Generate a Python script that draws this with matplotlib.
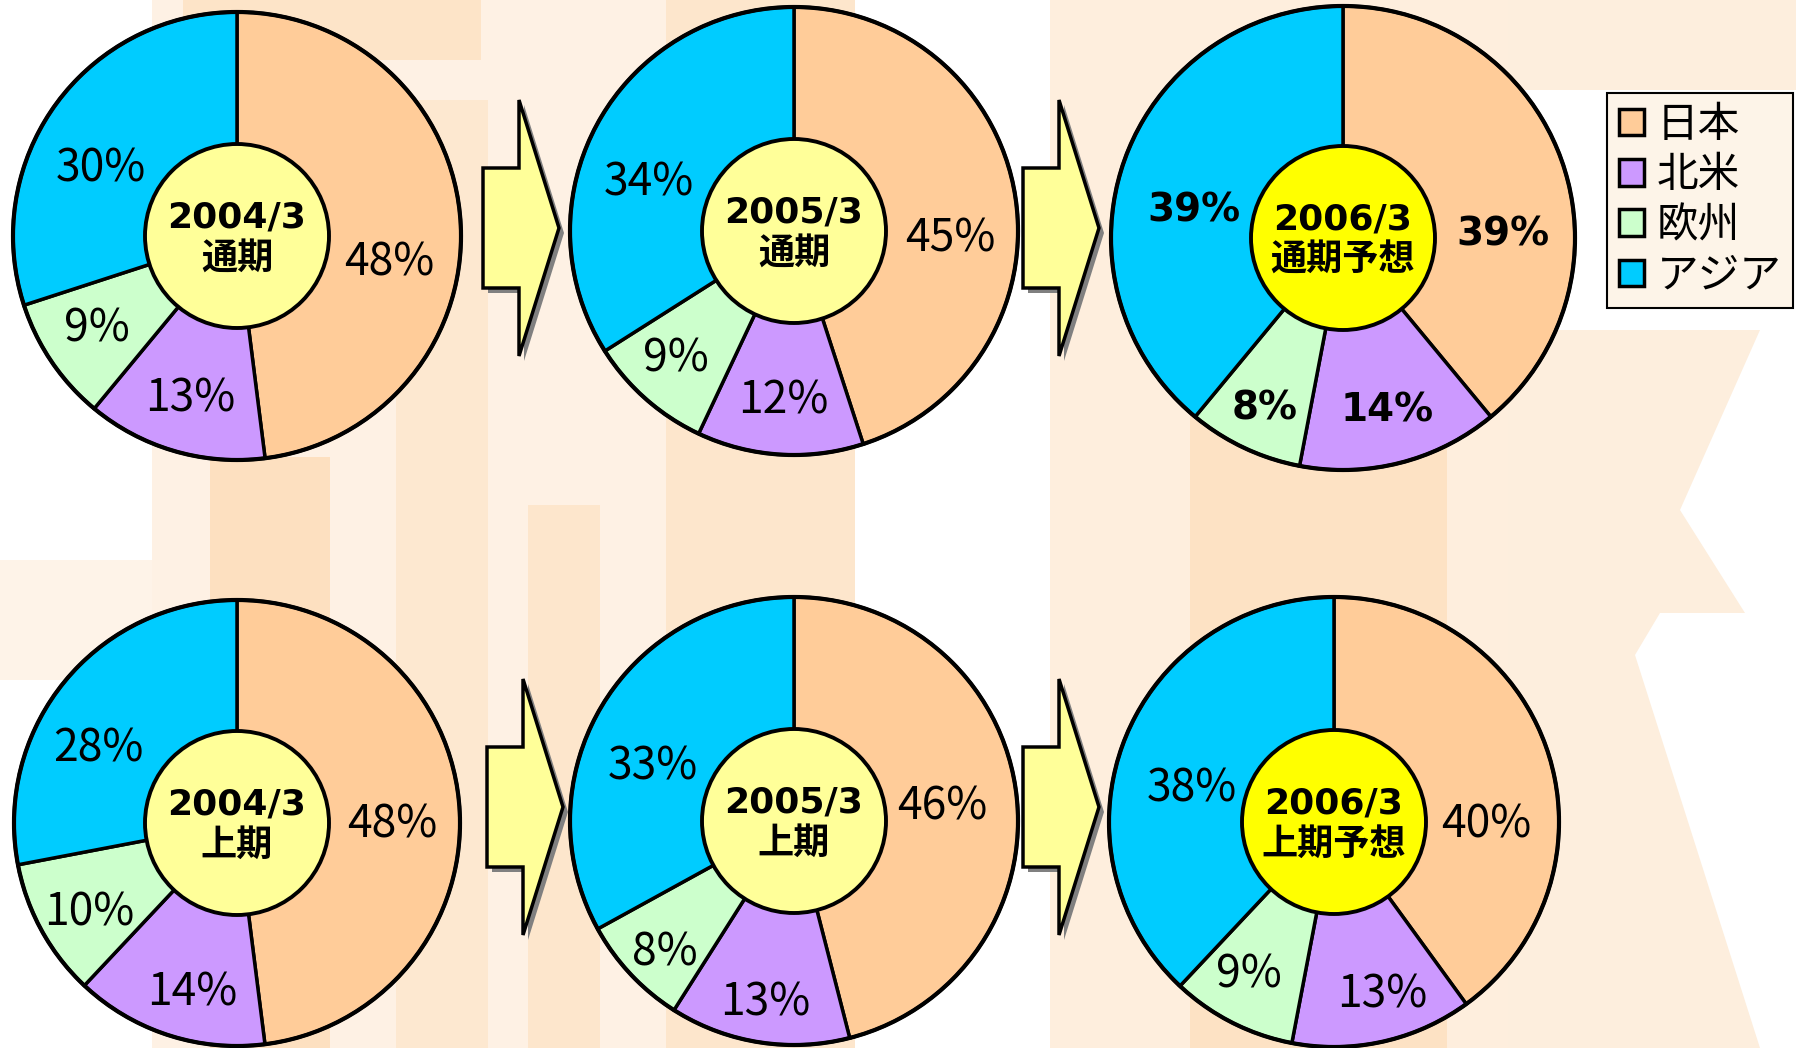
import matplotlib.pyplot as plt
from matplotlib.patches import Circle, Polygon, Rectangle

# Region share (%) per period
regions = ['日本', '北米', '欧州', 'アジア']
colors = ['#ffcc99', '#cc99ff', '#ccffcc', '#00ccff']

periods = ['2004/3\n通期', '2005/3\n通期', '2006/3\n通期予想',
           '2004/3\n上期', '2005/3\n上期', '2006/3\n上期予想']
japan = [48, 45, 39, 48, 46, 40]
north_america = [13, 12, 14, 14, 13, 13]
europe = [9, 9, 8, 10, 8, 9]
asia = [30, 34, 39, 28, 33, 38]
forecast = [False, False, True, False, False, True]
bold_labels = [False, False, True, False, False, False]

# layout in pixels (y down): pie centre x, centre y, radius
centers = [(237, 236, 224), (794, 231, 224), (1343, 238, 232),
           (237, 823, 223), (794, 821, 224), (1334, 822, 225)]
# label positions relative to the pie centre (日本, 北米, 欧州, アジア)
label_offsets = [
    [(152, 26), (-47, 162), (-140, 92), (-136, -67)],
    [(156, 7), (-11, 169), (-118, 127), (-145, -48)],
    [(160, -3), (44, 173), (-78, 171), (-149, -28)],
    [(155, 2), (-45, 169), (-148, 90), (-139, -74)],
    [(148, -15), (-29, 181), (-129, 132), (-141, -54)],
    [(152, 3), (48, 173), (-85, 152), (-142, -34)],
]
arrows = [(483, 228), (1023, 228), (487, 807), (1023, 807)]

W, H = 1796, 1048
fig = plt.figure(figsize=(W / 100, H / 100), dpi=100)
ax = fig.add_axes([0, 0, 1, 1])

# faint watermark shapes in the background
bg_rects = [((152, 0, 703, H), '#fef1e4'), ((183, 0, 298, 60), '#fde4c8'),
            ((396, 100, 92, H), '#fde8d0'), ((666, 0, 189, H), '#fde6cc'),
            ((210, 457, 120, H), '#fde0c0'), ((528, 505, 72, H), '#fde6cc'),
            ((1050, 0, 458, H), '#feeedd'), ((1190, 380, 257, H), '#fde2c4'),
            ((0, 560, 152, 120), '#fef3e8')]
for (x, y, w, h), c in bg_rects:
    ax.add_patch(Rectangle((x, y), w, h, color=c, zorder=0, lw=0))
bg_polys = [[(1508, 330), (1760, 330), (1680, 510), (1745, 613), (1508, 613)],
            [(1508, 613), (1660, 613), (1635, 655), (1760, H), (1508, H)],
            [(1508, 0), (1796, 0), (1796, 90), (1508, 90)]]
for pts in bg_polys:
    ax.add_patch(Polygon(pts, closed=True, color='#fdeedd', zorder=0, lw=0))

# block arrows between the pies
for x0, yc in arrows:
    pts = [(x0, yc - 60), (x0 + 36, yc - 60), (x0 + 36, yc - 128), (x0 + 76, yc),
           (x0 + 36, yc + 128), (x0 + 36, yc + 60), (x0, yc + 60)]
    shadow = [(px + 5, py + 5) for px, py in pts]
    ax.add_patch(Polygon(shadow, closed=True, color='#808080', zorder=2, lw=0))
    ax.add_patch(Polygon(pts, closed=True, facecolor='#ffff99', edgecolor='black',
                         lw=2.5, zorder=3))

for i, (cx, cy, r) in enumerate(centers):
    vals = [japan[i], north_america[i], europe[i], asia[i]]
    w, _ = ax.pie(vals, colors=colors, startangle=-90, counterclock=True,
                  center=(cx, cy), radius=r, frame=True,
                  wedgeprops=dict(edgecolor='black', linewidth=2.5))
    for wd in w:
        wd.set_zorder(4)
    ax.add_patch(Circle((cx, cy), r, fill=False, edgecolor='black', lw=3, zorder=5))
    fc = '#ffff00' if forecast[i] else '#ffff99'
    ax.add_patch(Circle((cx, cy), 92, facecolor=fc, edgecolor='black', lw=2.8, zorder=6))
    ax.text(cx, cy + 2, periods[i], ha='center', va='center', fontsize=26,
            fontweight='bold', family=['DejaVu Sans', 'Noto Sans CJK JP'],
            linespacing=1.25, zorder=7)

    if bold_labels[i]:
        tp = dict(family=['DejaVu Sans'], fontweight='bold', fontsize=28)
    else:
        tp = dict(family=['Noto Sans CJK JP'], fontsize=32)
    for v, (dx, dy) in zip(vals, label_offsets[i]):
        ax.text(cx + dx, cy + dy, f'{v}%', ha='center', va='center', zorder=7, **tp)

handles = [Rectangle((0, 0), 1, 1, facecolor=c, edgecolor='black', lw=2.5) for c in colors]
leg = fig.legend(handles, regions, loc='upper left', bbox_to_anchor=(0.895, 0.911),
                 bbox_transform=fig.transFigure, prop=dict(family='Noto Sans CJK JP', size=30),
                 handlelength=0.6, handleheight=0.6, handletextpad=0.3,
                 labelspacing=0.22, borderpad=0.28, borderaxespad=0,
                 fancybox=False, framealpha=1)
leg.get_frame().set_edgecolor('black')
leg.get_frame().set_linewidth(1.5)
leg.get_frame().set_facecolor('#fdf4e8')

ax.set_xlim(0, W)
ax.set_ylim(H, 0)
ax.set_aspect('equal')
ax.axis('off')

fig.savefig('out.png', dpi=100, facecolor='white')
